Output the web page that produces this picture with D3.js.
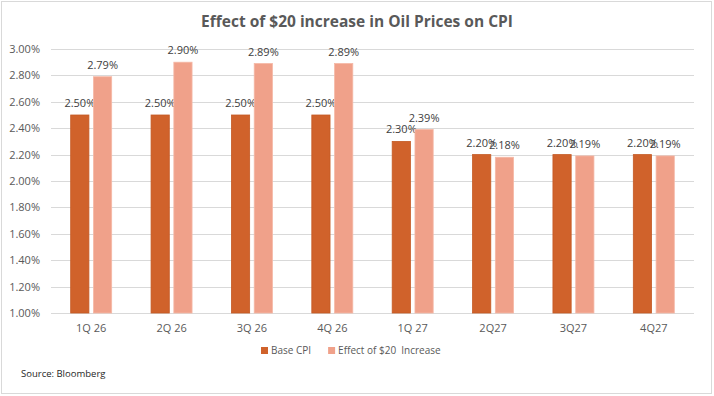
<!DOCTYPE html>
<html>
<head>
<meta charset="utf-8">
<script src="https://cdn.jsdelivr.net/npm/d3@7"></script>
<style>
  html, body { margin: 0; padding: 0; background: #fff; }
  #chart { width: 714px; height: 396px; }
  text { font-family: "Open Sans", "Liberation Sans", sans-serif; }
</style>
</head>
<body>
<div id="chart"></div>
<script>
// Données
const quarters = ['1Q 26', '2Q 26', '3Q 26', '4Q 26', '1Q 27', '2Q27', '3Q27', '4Q27'];
const baseCpi = [2.50, 2.50, 2.50, 2.50, 2.30, 2.20, 2.20, 2.20];
const oilEffect = [2.79, 2.90, 2.89, 2.89, 2.39, 2.18, 2.19, 2.19];
const yTicks = [1.00, 1.20, 1.40, 1.60, 1.80, 2.00, 2.20, 2.40, 2.60, 2.80, 3.00];
const seriesNames = ['Base CPI', 'Effect of $20  Increase'];
const colors = ['#D0622B', '#F0A18A'];

const W = 714, H = 396;
const margin = { top: 49, right: 20, bottom: 83, left: 51 };
const width = W - margin.left - margin.right;
const height = H - margin.top - margin.bottom;

const root = d3.select('#chart').append('svg')
  .attr('width', W)
  .attr('height', H);

// Cadre
root.append('rect')
  .attr('x', 1.5).attr('y', 1.5)
  .attr('width', W - 4).attr('height', H - 4)
  .attr('fill', '#fff')
  .attr('stroke', '#d9d9d9');

// Titre
root.append('text')
  .attr('x', W / 2)
  .attr('y', 27)
  .attr('text-anchor', 'middle')
  .style('font-size', '15.5px')
  .style('font-weight', 'bold')
  .attr('fill', '#595959')
  .text('Effect of $20 increase in Oil Prices on CPI');

const svg = root.append('g')
  .attr('transform', `translate(${margin.left},${margin.top})`);

const x0 = d3.scaleBand().domain(quarters).range([0, width]).paddingInner(0.49).paddingOuter(0.245);
const x1 = d3.scaleBand().domain([0, 1]).range([0, x0.bandwidth()]).paddingInner(0.2);
const y = d3.scaleLinear().domain([1.0, 3.0]).range([height, 0]);

// Grille
svg.append('g')
  .selectAll('line')
  .data(yTicks)
  .join('line')
  .attr('x1', 0).attr('x2', width)
  .attr('y1', d => Math.round(y(d)) + 0.5)
  .attr('y2', d => Math.round(y(d)) + 0.5)
  .attr('stroke', '#d9d9d9')
  .attr('stroke-width', 1);

// Axe Y
const yAxis = svg.append('g')
  .call(d3.axisLeft(y).tickValues(yTicks).tickFormat(d => d.toFixed(2) + '%').tickSize(0).tickPadding(11));
yAxis.select('.domain').remove();
yAxis.selectAll('text')
  .attr('fill', '#595959')
  .style('font-size', '11px');

// Axe X
const xAxis = svg.append('g')
  .attr('transform', `translate(0,${height})`)
  .call(d3.axisBottom(x0).tickSize(0).tickPadding(11));
xAxis.select('.domain').remove();
xAxis.selectAll('text')
  .attr('fill', '#595959')
  .style('font-size', '11px');

// Barres
const series = [baseCpi, oilEffect];
const groups = svg.selectAll('.grp')
  .data(quarters)
  .join('g')
  .attr('class', 'grp')
  .attr('transform', d => `translate(${x0(d)},0)`);

groups.each(function (q, i) {
  const g = d3.select(this);
  series.forEach((vals, s) => {
    g.append('rect')
      .attr('x', x1(s))
      .attr('y', y(vals[i]))
      .attr('width', x1.bandwidth())
      .attr('height', y(1.0) - y(vals[i]))
      .attr('fill', colors[s])
      .attr('stroke', s === 0 ? '#c45a25' : '#f5b8a6')
      .attr('stroke-width', 0.8);
    g.append('text')
      .attr('x', x1(s) + x1.bandwidth() / 2)
      .attr('y', y(vals[i]) - 8)
      .attr('text-anchor', 'middle')
      .attr('fill', '#404040')
      .style('font-size', '11px')
      .text(vals[i].toFixed(2) + '%');
  });
});

// Légende
const legend = root.append('g').attr('transform', 'translate(261,352)');
let lx = 0;
seriesNames.forEach((name, s) => {
  legend.append('rect')
    .attr('x', lx).attr('y', -5)
    .attr('width', 7).attr('height', 7)
    .attr('fill', colors[s]);
  const t = legend.append('text')
    .attr('x', lx + 10)
    .attr('y', 2)
    .attr('fill', '#595959')
    .style('font-size', '10px')
    .style('white-space', 'pre')
    .text(name);
  lx += 10 + t.node().getComputedTextLength() + 17;
});

// Source
root.append('text')
  .attr('x', 21)
  .attr('y', 377)
  .attr('fill', '#262626')
  .style('font-size', '9.5px')
  .text('Source: Bloomberg');
</script>
</body>
</html>
